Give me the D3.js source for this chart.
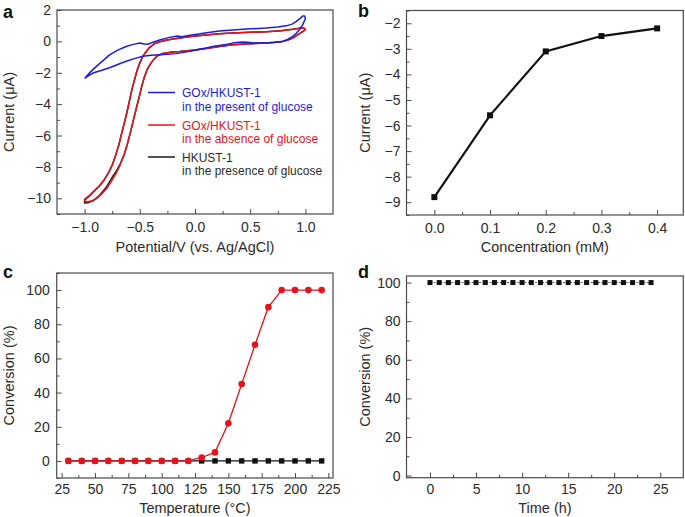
<!DOCTYPE html>
<html><head><meta charset="utf-8">
<script src="https://cdn.jsdelivr.net/npm/d3@7"></script>
<style>
body{margin:0;background:#fff;}
text{font-family:"Liberation Sans", Arial, Helvetica, sans-serif;}
</style></head><body>
<svg id="chart" width="685" height="517"></svg>
<script>
// ---------- DATA ----------
// Panel a: cyclic voltammograms [potential V, current uA]
const cvBlue = [
[-1.00,-2.36],[-0.97,-2.12],[-0.925,-1.80],[-0.87,-1.45],[-0.82,-1.15],[-0.774,-0.86],[-0.70,-0.56],[-0.623,-0.33],[-0.56,-0.19],[-0.50,-0.10],[-0.46,-0.17],[-0.427,-0.18],[-0.38,-0.05],[-0.32,0.09],[-0.24,0.24],[-0.16,0.34],[-0.12,0.30],[-0.06,0.38],[0.02,0.46],[0.12,0.57],[0.22,0.66],[0.34,0.73],[0.50,0.80],[0.64,0.85],[0.75,0.91],[0.825,0.99],[0.88,1.10],[0.915,1.26],[0.95,1.45],[0.975,1.62],[0.993,1.62],[1.0,1.45],
[0.975,1.05],[0.946,0.74],[0.915,0.50],[0.885,0.32],[0.84,0.12],[0.795,0.01],[0.72,-0.07],[0.645,-0.10],[0.58,-0.11],[0.523,-0.09],[0.47,-0.05],[0.433,-0.04],[0.38,-0.07],[0.342,-0.11],[0.28,-0.20],[0.22,-0.26],[0.16,-0.33],[0.10,-0.42],[0.04,-0.50],[-0.02,-0.60],[-0.10,-0.70],[-0.17,-0.78],[-0.25,-0.82],[-0.32,-0.85],[-0.40,-0.89],[-0.472,-0.95],[-0.55,-1.10],[-0.623,-1.27],[-0.70,-1.47],[-0.774,-1.68],[-0.85,-1.86],[-0.925,-2.02],[-0.97,-2.22],[-1.00,-2.36]
];
const cvRed = [
[-1.00,-10.05],[-0.955,-9.81],[-0.91,-9.50],[-0.864,-9.18],[-0.82,-8.80],[-0.78,-8.33],[-0.748,-7.85],[-0.72,-7.28],[-0.69,-6.60],[-0.662,-5.80],[-0.64,-5.20],[-0.617,-4.53],[-0.594,-3.80],[-0.571,-3.06],[-0.546,-2.40],[-0.522,-1.79],[-0.497,-1.32],[-0.474,-0.97],[-0.44,-0.63],[-0.41,-0.38],[-0.37,-0.16],[-0.32,-0.02],[-0.24,0.11],[-0.14,0.22],[-0.02,0.32],[0.10,0.41],[0.22,0.48],[0.34,0.53],[0.50,0.58],[0.645,0.62],[0.78,0.68],[0.885,0.77],[0.95,0.84],[0.985,0.85],[1.0,0.75],
[0.975,0.62],[0.946,0.50],[0.915,0.35],[0.885,0.21],[0.84,0.08],[0.795,0.0],[0.72,-0.06],[0.645,-0.10],[0.50,-0.15],[0.34,-0.22],[0.22,-0.33],[0.10,-0.45],[0.0,-0.55],[-0.07,-0.60],[-0.14,-0.65],[-0.23,-0.70],[-0.29,-0.77],[-0.34,-0.92],[-0.375,-1.16],[-0.405,-1.45],[-0.435,-1.82],[-0.46,-2.30],[-0.482,-2.85],[-0.504,-3.50],[-0.526,-4.11],[-0.556,-4.95],[-0.585,-5.80],[-0.615,-6.60],[-0.645,-7.28],[-0.677,-7.85],[-0.708,-8.33],[-0.756,-8.90],[-0.802,-9.39],[-0.85,-9.75],[-0.894,-10.02],[-0.93,-10.15],[-0.97,-10.22],[-1.00,-10.18],[-1.00,-10.05]
];
const cvBlack = [
[-1.00,-10.10],[-0.955,-9.85],[-0.91,-9.52],[-0.864,-9.20],[-0.82,-8.80],[-0.78,-8.33],[-0.748,-7.85],[-0.72,-7.28],[-0.69,-6.60],[-0.662,-5.80],[-0.64,-5.20],[-0.617,-4.53],[-0.594,-3.80],[-0.571,-3.06],[-0.546,-2.40],[-0.522,-1.79],[-0.497,-1.32],[-0.474,-0.97],[-0.44,-0.63],[-0.41,-0.38],[-0.37,-0.16],[-0.32,-0.02],[-0.24,0.11],[-0.14,0.22],[-0.02,0.32],[0.10,0.41],[0.22,0.48],[0.34,0.53],[0.50,0.58],[0.645,0.62],[0.78,0.68],[0.885,0.77],[0.95,0.84],[0.985,0.85],[1.0,0.75],
[0.975,0.62],[0.946,0.50],[0.915,0.35],[0.885,0.21],[0.84,0.08],[0.795,0.0],[0.72,-0.06],[0.645,-0.10],[0.50,-0.15],[0.34,-0.22],[0.22,-0.33],[0.10,-0.45],[0.0,-0.55],[-0.07,-0.60],[-0.14,-0.65],[-0.23,-0.70],[-0.29,-0.77],[-0.34,-0.92],[-0.375,-1.16],[-0.405,-1.45],[-0.435,-1.82],[-0.46,-2.30],[-0.482,-2.85],[-0.504,-3.50],[-0.526,-4.11],[-0.556,-4.95],[-0.585,-5.80],[-0.615,-6.60],[-0.645,-7.28],[-0.677,-7.80],[-0.708,-8.22],[-0.740,-8.54],[-0.802,-9.28],[-0.864,-9.81],[-0.92,-10.15],[-0.97,-10.28],[-1.00,-10.30],[-1.00,-10.10]
];
const legendTitles = ["GOx/HKUST-1","GOx/HKUST-1","HKUST-1"];
const legendSubs = ["in the present of glucose","in the absence of glucose","in the presence of glucose"];
const legendColors = ["#1d1dd8","#e5141c","#1a1a1a"];

// Panel b
const concentration = [0.0, 0.1, 0.2, 0.3, 0.4];
const currentB = [-8.8, -5.6, -3.1, -2.5, -2.2];

// Panel c
const temperature = [30,40,50,60,70,80,90,100,110,120,130,140,150,160,170,180,190,200,210,220];
const convCatalyst = [0,0,0,0,0,0,0,0,0,0,2,5,22,45,68,90,100,100,100,100];
const convBlank    = [0,0,0,0,0,0,0,0,0,0,0,0,0,0,0,0,0,0,0,0];

// Panel d
const timeH = [0,1,2,3,4,5,6,7,8,9,10,11,12,13,14,15,16,17,18,19,20,21,22,23,24];
const convTime = [100,100,100,100,100,100,100,100,100,100,100,100,100,100,100,100,100,100,100,100,100,100,100,100,100];

// Tick values
const aXMajor=[-1,-0.5,0,0.5,1], aXMinor=[-0.75,-0.25,0.25,0.75];
const aYMajor=[-10,-8,-6,-4,-2,0,2], aYMinor=[-11,-9,-7,-5,-3,-1,1];
const bXMajor=[0,0.1,0.2,0.3,0.4], bXMinor=[0.05,0.15,0.25,0.35];
const bYMajor=[-9,-8,-7,-6,-5,-4,-3,-2], bYMinor=[-9.5,-8.5,-7.5,-6.5,-5.5,-4.5,-3.5,-2.5,-1.5];
const cXMajor=[25,50,75,100,125,150,175,200,225], cXMinor=[37.5,62.5,87.5,112.5,137.5,162.5,187.5,212.5];
const cYMajor=[0,20,40,60,80,100], cYMinor=[-10,10,30,50,70,90,110];
const dXMajor=[0,5,10,15,20,25], dXMinor=[2.5,7.5,12.5,17.5,22.5];
const dYMajor=[0,20,40,60,80,100], dYMinor=[10,30,50,70,90];

// ---------- DRAW ----------
const svg = d3.select("#chart");
svg.append("rect").attr("width",685).attr("height",517).attr("fill","#fff");
const TXT="#2b2b2b", AX="#4a4a4a";

function panel(o){
  const x=d3.scaleLinear().domain(o.xd).range([o.l,o.r]);
  const y=d3.scaleLinear().domain(o.yd).range([o.b,o.t]);
  const g=svg.append("g");
  const ax=[];
  ax.push(g.append("g").attr("transform",`translate(0,${o.b})`)
    .call(d3.axisBottom(x).tickValues(o.xMinor).tickSize(-3).tickFormat("")));
  ax.push(g.append("g").attr("transform",`translate(0,${o.b})`)
    .call(d3.axisBottom(x).tickValues(o.xMajor).tickSize(-5).tickPadding(o.xPad).tickFormat(o.xFmt)));
  ax.push(g.append("g").attr("transform",`translate(${o.l},0)`)
    .call(d3.axisLeft(y).tickValues(o.yMinor).tickSize(-3).tickFormat("")));
  ax.push(g.append("g").attr("transform",`translate(${o.l},0)`)
    .call(d3.axisLeft(y).tickValues(o.yMajor).tickSize(-5).tickPadding(o.yPad).tickFormat(o.yFmt)));
  ax.forEach(a=>{
    a.select(".domain").remove();
    a.selectAll("line").attr("stroke",AX).attr("stroke-width",1);
    a.selectAll("text").attr("fill",TXT).style("font-size","14px")
      .style("font-family",'"Liberation Sans", Arial, sans-serif');
  });
  g.append("rect").attr("x",o.l).attr("y",o.t).attr("width",o.r-o.l).attr("height",o.b-o.t)
    .attr("fill","none").attr("stroke",AX).attr("stroke-width",1.2);
  g.append("text").attr("x",(o.l+o.r)/2).attr("y",o.xtY).attr("text-anchor","middle")
    .attr("fill",TXT).style("font-size","14.5px").text(o.xt);
  g.append("text").attr("transform",`translate(${o.ytX},${(o.t+o.b)/2}) rotate(-90)`)
    .attr("text-anchor","middle").attr("fill",TXT).style("font-size","14.5px").text(o.yt);
  g.append("text").attr("x",o.labX).attr("y",o.labY).attr("fill","#111")
    .style("font-size","18px").style("font-weight","bold").text(o.lab);
  return {g,x,y};
}

const f1=d3.format(".1f"), fd=d3.format("d");

// Panel a
{
  const p=panel({l:57,r:333,t:10,b:214,xd:[-1.25,1.25],yd:[-11,2],
    xMajor:aXMajor,xMinor:aXMinor,yMajor:aYMajor,yMinor:aYMinor,xFmt:f1,yFmt:fd,xPad:8,yPad:6,
    xt:"Potential/V (vs. Ag/AgCl)",xtY:252,yt:"Current (\u03bcA)",ytX:14,lab:"a",labX:3,labY:18});
  const line=d3.line().x(d=>p.x(d[0])).y(d=>p.y(d[1]));
  [[cvBlack,legendColors[2]],[cvRed,legendColors[1]],[cvBlue,legendColors[0]]].forEach(([d,c])=>{
    p.g.append("path").datum(d).attr("d",line).attr("fill","none").attr("stroke",c)
      .attr("stroke-width",1.5).attr("stroke-linejoin","round");
  });
  const ly=[92.5,125,157], tb=[97,129.5,161.5];
  legendTitles.forEach((t,i)=>{
    const col = i===2 ? TXT : legendColors[i];
    p.g.append("line").attr("x1",148).attr("x2",175).attr("y1",ly[i]).attr("y2",ly[i])
      .attr("stroke",legendColors[i]).attr("stroke-width",1.5);
    p.g.append("text").attr("x",182).attr("y",tb[i]).attr("fill",col)
      .style("font-size","12px").text(t);
    p.g.append("text").attr("x",182).attr("y",tb[i]+13.5).attr("fill",col)
      .style("font-size","12px").text(legendSubs[i]);
  });
}

// Panel b
{
  const p=panel({l:406.5,r:683.3,t:10.5,b:215,xd:[-0.05,0.447],yd:[-9.5,-1.5],
    xMajor:bXMajor,xMinor:bXMinor,yMajor:bYMajor,yMinor:bYMinor,xFmt:f1,yFmt:fd,xPad:8,yPad:6,
    xt:"Concentration (mM)",xtY:252,yt:"Current (\u03bcA)",ytX:370,lab:"b",labX:358,labY:17});
  const pts=concentration.map((c,i)=>[c,currentB[i]]);
  p.g.append("path").datum(pts).attr("d",d3.line().x(d=>p.x(d[0])).y(d=>p.y(d[1])))
    .attr("fill","none").attr("stroke","#111").attr("stroke-width",2.2);
  p.g.selectAll("rect.m").data(pts).enter().append("rect")
    .attr("x",d=>p.x(d[0])-3).attr("y",d=>p.y(d[1])-3).attr("width",6).attr("height",6).attr("fill","#111");
}

// Panel c
{
  const p=panel({l:56.7,r:333,t:273,b:478,xd:[21.25,228.5],yd:[-10,110],
    xMajor:cXMajor,xMinor:cXMinor,yMajor:cYMajor,yMinor:cYMinor,xFmt:fd,yFmt:fd,xPad:6,yPad:7,
    xt:"Temperature (\u00b0C)",xtY:513,yt:"Conversion (%)",ytX:14,lab:"c",labX:3,labY:278});
  const line=d3.line().x(d=>p.x(d[0])).y(d=>p.y(d[1]));
  const blank=temperature.map((t,i)=>[t,convBlank[i]]);
  const cat=temperature.map((t,i)=>[t,convCatalyst[i]]);
  p.g.append("path").datum(blank).attr("d",line).attr("fill","none").attr("stroke","#111").attr("stroke-width",1.3);
  p.g.selectAll("rect.m").data(blank).enter().append("rect")
    .attr("x",d=>p.x(d[0])-2.7).attr("y",d=>p.y(d[1])-2.7).attr("width",5.4).attr("height",5.4).attr("fill","#111");
  p.g.append("path").datum(cat).attr("d",line).attr("fill","none").attr("stroke","#e5141c").attr("stroke-width",1.3);
  p.g.selectAll("circle.m").data(cat).enter().append("circle")
    .attr("cx",d=>p.x(d[0])).attr("cy",d=>p.y(d[1])).attr("r",3.3).attr("fill","#e5141c");
}

// Panel d
{
  const p=panel({l:406.5,r:683.3,t:276,b:477.7,xd:[-2.55,27.5],yd:[-1.1,103.4],
    xMajor:dXMajor,xMinor:dXMinor,yMajor:dYMajor,yMinor:dYMinor,xFmt:fd,yFmt:fd,xPad:6,yPad:6,
    xt:"Time (h)",xtY:513,yt:"Conversion (%)",ytX:370,lab:"d",labX:358,labY:278});
  const pts=timeH.map((t,i)=>[t,convTime[i]]);
  p.g.append("path").datum(pts).attr("d",d3.line().x(d=>p.x(d[0])).y(d=>p.y(d[1])))
    .attr("fill","none").attr("stroke","#555").attr("stroke-width",1).attr("stroke-dasharray","2,1.5");
  p.g.selectAll("rect.m").data(pts).enter().append("rect")
    .attr("x",d=>p.x(d[0])-2.5).attr("y",d=>p.y(d[1])-2.5).attr("width",5).attr("height",5).attr("fill","#111");
}
</script>
</body></html>
